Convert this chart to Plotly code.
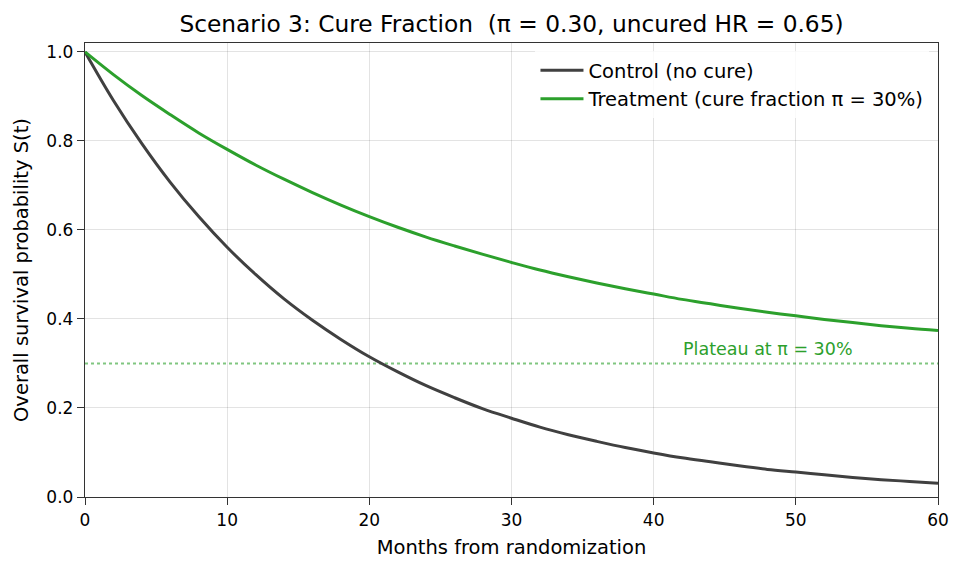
import plotly.graph_objects as go

# months from randomization
months = [0, 2, 4, 6, 8, 10, 12, 14, 16, 18, 20, 22, 24, 26, 28, 30,
          32, 34, 36, 38, 40, 42, 44, 46, 48, 50, 52, 54, 56, 58, 60]

# survival
control = [1.000, 0.891, 0.794, 0.707, 0.630, 0.561, 0.500, 0.445, 0.397, 0.354,
           0.315, 0.281, 0.250, 0.223, 0.198, 0.177, 0.157, 0.140, 0.125, 0.111,
           0.099, 0.088, 0.079, 0.070, 0.062, 0.056, 0.050, 0.044, 0.039, 0.035, 0.031]
treatment = [1.000, 0.949, 0.902, 0.859, 0.818, 0.781, 0.746, 0.714, 0.684, 0.656,
             0.630, 0.606, 0.584, 0.564, 0.545, 0.527, 0.510, 0.495, 0.481, 0.468,
             0.456, 0.444, 0.434, 0.424, 0.415, 0.407, 0.399, 0.392, 0.385, 0.379, 0.374]

plateau = 0.30
xticks = [0, 10, 20, 30, 40, 50, 60]
yticks = [0.0, 0.2, 0.4, 0.6, 0.8, 1.0]

font = "DejaVu Sans"

fig = go.Figure()
fig.add_trace(go.Scatter(
    x=months, y=control, mode="lines", line_shape="spline",
    line=dict(color="#404040", width=3),
    name="Control (no cure)",
))
fig.add_trace(go.Scatter(
    x=months, y=treatment, mode="lines", line_shape="spline",
    line=dict(color="#2ca02c", width=3),
    name="Treatment (cure fraction π = 30%)",
))

fig.add_shape(type="line", xref="paper", yref="y", x0=0, x1=1, y0=plateau, y1=plateau,
              line=dict(color="rgba(44,160,44,0.6)", width=2, dash="dot"), layer="below")
fig.add_annotation(x=42, y=0.333, text="Plateau at π = 30%", showarrow=False,
                   xanchor="left", yanchor="middle", borderpad=0,
                   font=dict(family=font, size=17.5, color="#2ca02c"))

axis = dict(
    showline=True, linecolor="#333333", linewidth=1.4, mirror=True,
    ticks="outside", ticklen=7, tickcolor="#333333", tickwidth=1.2,
    showgrid=True, gridcolor="rgba(0,0,0,0.11)", gridwidth=1,
    zeroline=False,
    tickfont=dict(family=font, size=17, color="black"),
    title_font=dict(family=font, size=19.5, color="black"),
)

# the page body adds an 8px offset, so the figure is slightly smaller
fig.update_layout(
    width=957, height=563,
    paper_bgcolor="white", plot_bgcolor="white",
    margin=dict(l=77, r=27, t=35, b=74),
    title=dict(text="Scenario 3: Cure Fraction  (π = 0.30, uncured HR = 0.65)",
               x=0.5, xref="paper", xanchor="center",
               y=1 - 16 / 563, yref="container", yanchor="middle",
               font=dict(family=font, size=23.3, color="black")),
    xaxis=dict(axis, range=[0, 60], tickvals=xticks,
               title=dict(text="Months from randomization", standoff=11)),
    yaxis=dict(axis, range=[0, 1.02], tickvals=yticks, tickformat=".1f",
               title=dict(text="Overall survival probability S(t)", standoff=12)),
    legend=dict(x=0.99, y=0.982, xanchor="right", yanchor="top",
                itemwidth=43, tracegroupgap=0,
                bgcolor="rgba(255,255,255,0.8)", borderwidth=0,
                font=dict(family=font, size=19.5, color="black")),
    showlegend=True,
)

fig.write_html("out.html")
